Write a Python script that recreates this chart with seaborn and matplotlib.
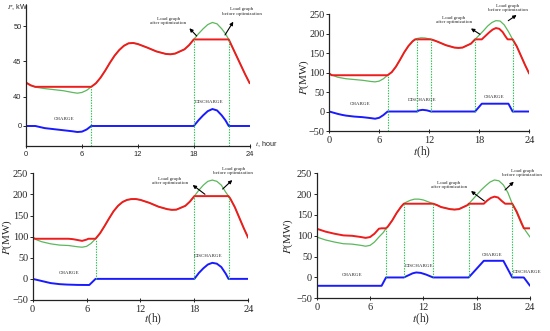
import numpy as np
import matplotlib
matplotlib.use("Agg")
import matplotlib.pyplot as plt
import seaborn as sns

sns.set_style("ticks")
plt.rcParams["font.family"] = ["Liberation Serif", "DejaVu Serif"]
plt.rcParams["mathtext.fontset"] = "stix"

# ---------------- data ----------------
# Panel 1 (kW)
t1_before = [0, 0.5, 1, 2, 3, 4, 5, 5.5, 6, 6.5, 7, 7.5, 8, 8.5, 9, 9.5, 10, 10.5, 11, 11.5, 12,
             13, 14, 15, 15.5, 16, 17, 17.5, 18, 18.5, 19, 19.5, 20, 20.5, 21, 21.4, 21.75,
             22, 22.5, 23, 23.5, 24]
before1 = [42.0, 41.65, 41.35, 41.15, 41.0, 40.85, 40.6, 40.5, 40.6, 40.9, 41.4, 41.9, 42.7, 43.7,
           44.8, 45.8, 46.6, 47.2, 47.55, 47.6, 47.45, 46.95, 46.4, 46.05, 46.0, 46.1, 46.7, 47.3,
           48.1, 48.9, 49.6, 50.2, 50.5, 50.3, 49.6, 48.9, 48.1, 47.4, 46.0, 44.6, 43.2, 41.9]
t1_after = [0, 0.5, 1, 7, 7.5, 8, 8.5, 9, 9.5, 10, 10.5, 11, 11.5, 12, 13, 14, 15, 15.5, 16, 17,
            17.5, 18, 21.75, 22, 22.5, 23, 23.5, 24]
after1 = [42.0, 41.6, 41.4, 41.4, 41.9, 42.7, 43.7, 44.8, 45.8, 46.6, 47.2, 47.55, 47.6, 47.45,
          46.95, 46.4, 46.05, 46.0, 46.1, 46.7, 47.3, 48.1, 48.1, 47.4, 46.0, 44.6, 43.2, 41.9]
t1_batt = [0, 1, 1.5, 2, 3, 4, 5, 5.5, 6, 6.5, 7, 18, 18.5, 19, 19.5, 20, 20.5, 21, 21.4, 21.75, 24]
batt1 = [0, 0, -0.15, -0.3, -0.45, -0.6, -0.75, -0.85, -0.8, -0.5, 0, 0, 0.8, 1.5, 2.1, 2.4, 2.2,
         1.5, 0.8, 0, 0]
vlines1 = [7, 18, 21.75]

# Panel 2 (MW)
t2_before = [0, 0.5, 1, 2, 3, 4, 5, 5.5, 6, 6.5, 7, 7.5, 8, 8.5, 9, 9.5, 10, 10.5, 11, 11.5, 12,
             12.5, 13, 14, 15, 15.5, 16, 17, 17.5, 18, 18.5, 19, 19.5, 20, 20.5, 21, 21.5, 22,
             22.5, 23, 23.5, 24]
before2 = [97, 92, 88, 84, 82, 80, 77, 76, 78, 84, 93, 101, 115, 133, 152, 168, 180, 187, 189, 188.5,
           186, 183, 179, 170, 164, 163, 164, 174, 185, 196, 207, 219, 228, 233, 232, 222, 205, 185,
           167, 143, 119, 97]
t2_after = [0, 0.3, 7, 7.5, 8, 8.5, 9, 9.5, 10, 10.3, 12.2, 12.5, 13, 14, 15, 15.5, 16, 17, 17.5,
            18.3, 18.7, 19.2, 19.6, 20, 20.4, 20.8, 21.1, 21.4, 22, 22.5, 23, 23.5, 24]
after2 = [97, 93, 93, 101, 115, 133, 152, 168, 180, 185, 185, 183, 179, 170, 164, 163, 164, 174, 185,
          185, 193, 203, 210, 214, 212, 204, 194, 185, 185, 167, 143, 119, 97]
t2_batt = [0, 1, 1.5, 2, 3, 4, 5, 5.5, 6, 6.5, 7, 10.5, 10.8, 11.2, 11.7, 12.2, 17.5, 18.3, 21.5, 22, 24]
batt2 = [0, -6, -8.5, -10.5, -13, -14.5, -17, -18.5, -16, -9, 0, 0, 3, 4.3, 3, 0, 0, 20, 20, 0, 0]
vlines2 = [7, 10.5, 12.2, 17.5, 22]

# Panel 3 (MW)
t3_before = [0, 0.5, 1, 2, 3, 4, 5, 5.5, 6, 6.5, 7, 7.5, 8, 8.5, 9, 9.5, 10, 10.5, 11, 11.5, 12,
             13, 14, 15, 15.5, 16, 17, 17.5, 18, 18.5, 19, 19.5, 20, 20.5, 21, 21.5, 21.8,
             22, 22.5, 23, 23.5, 24]
before3 = [97, 92, 88, 83, 80, 79, 76, 75, 77, 84, 95, 108, 125, 143, 160, 173, 182, 187, 189, 189,
           187, 180, 171, 165, 163.5, 164, 173, 183, 196, 210, 222, 231, 234, 231, 222, 205, 196,
           190, 170, 145, 120, 97]
t3_after = [0, 0.3, 4, 4.5, 5, 5.5, 6, 6.2, 7, 7.5, 8, 8.5, 9, 9.5, 10, 10.5, 11, 11.5, 12,
            13, 14, 15, 15.5, 16, 17, 17.5, 18, 21.8, 22, 22.5, 23, 23.5, 24]
after3 = [97, 95, 95, 94, 92, 90, 93, 95, 95, 108, 125, 143, 160, 173, 182, 187, 189, 189, 187,
          180, 171, 165, 163.5, 164, 173, 183, 196, 196, 190, 170, 145, 120, 97]
t3_batt = [0, 1, 1.6, 2, 3, 3.8, 5, 6.3, 7, 18, 18.5, 19, 19.5, 20, 20.5, 21, 21.5, 21.8, 24]
batt3 = [0, -5, -8, -10, -12.5, -13.5, -14.3, -14.5, 0, 0, 14, 25, 34, 38, 36, 28, 12, 0, 0]
vlines3 = [7, 18, 21.8]

# Panel 4 (MW)
t4_before = [0, 1, 2, 3, 4, 5, 5.5, 6, 6.5, 7, 7.5, 7.8, 8, 8.5, 9, 9.5, 9.8, 10, 10.5, 11, 11.5,
             12, 12.5, 13, 13.1, 13.5, 14, 15, 15.5, 16, 17, 17.1, 17.5, 18, 18.5, 19, 19.5, 20,
             20.5, 21, 21.5, 22, 22.5, 23, 23.5, 24]
before4 = [97, 90, 85, 81, 80, 77, 75, 77, 85, 97, 108, 118, 122, 137, 155, 170, 177, 180, 185, 188,
           188, 186, 182, 178, 177, 174, 169, 164, 163, 164, 174, 177, 186, 198, 210, 220, 229, 234,
           232, 222, 204, 177, 155, 130, 112, 97]
t4_after = [0, 1, 2, 3, 4, 5, 5.5, 6, 6.5, 7, 7.3, 7.8, 8, 8.5, 9, 9.5, 9.8, 13.1, 13.5, 14, 15,
            15.5, 16, 17, 17.1, 18.8, 19.2, 19.6, 20, 20.4, 20.8, 21.2, 22, 22.5, 23, 23.3, 24]
after4 = [117, 110, 105, 101, 100, 97, 95, 97, 105, 117, 118, 118, 122, 137, 155, 170, 177, 177, 174,
          169, 164, 163, 164, 174, 177, 177, 185, 191, 194, 192, 184, 177, 177, 158, 133, 118, 118]
t4_batt = [0, 7.3, 7.8, 9.8, 10.3, 10.8, 11.2, 11.7, 12.3, 13.1, 17.1, 18.8, 21, 22, 23.3, 24]
batt4 = [-20, -20, 0, 0, 5, 10, 12, 11, 7, 0, 0, 40, 40, 0, 0, -20]
vlines4 = [7.8, 9.8, 13.1, 17.1, 22]

x_ticks = [0, 6, 12, 18, 24]
y_ticks_mw = [-50, 0, 50, 100, 150, 200, 250]

RED = "#ee1c1c"
GREEN = "#5cb85c"
BLUE = "#1a1aff"
DASH = "#1fc24a"
SMALL = 3.6

fig = plt.figure(figsize=(5.5, 3.31), dpi=100)


def draw(ax, t, v, color, lw):
    sns.lineplot(x=t, y=v, ax=ax, color=color, lw=lw, estimator=None, sort=False, legend=False)


def style_axes(ax):
    for s in ["top", "right"]:
        ax.spines[s].set_visible(False)
    for s in ["left", "bottom"]:
        ax.spines[s].set_linewidth(0.9)
        ax.spines[s].set_color("#222222")
    ax.set_xlim(0, 24)
    ax.set_xticks(x_ticks)
    ax.tick_params(axis="x", direction="inout", length=3, width=0.7, pad=2)
    ax.tick_params(axis="y", direction="out", length=2, width=0.7, pad=1.2)


def vlines(ax, ts, t_after, after, bottoms):
    for tv, b in zip(ts, bottoms):
        top = np.interp(tv, t_after, after)
        ax.plot([tv, tv], [b, top], color=DASH, lw=0.8, ls=(0, (1.2, 1.2)))


def labels(ax, after_xy, before_xy, arrow1, arrow2):
    ax.text(*after_xy, "Load graph\nafter optimization", fontsize=SMALL, ha="center", va="center",
            linespacing=1.1)
    ax.text(*before_xy, "Load graph\nbefore optimization", fontsize=SMALL, ha="center", va="center",
            linespacing=1.1)
    for (tail, head) in (arrow1, arrow2):
        ax.annotate("", xy=head, xytext=tail,
                    arrowprops=dict(arrowstyle="-|>", color="black", lw=0.8, mutation_scale=5,
                                    shrinkA=0, shrinkB=0))


# ---------- Panel 1 ----------
ax1 = fig.add_axes([0.0473, 0.5589, 0.4067, 0.426])
base1 = 35.86
draw(ax1, t1_before, before1, GREEN, 0.9)
draw(ax1, t1_after, after1, RED, 1.4)
draw(ax1, t1_batt, [base1 + b for b in batt1], BLUE, 1.4)
style_axes(ax1)
ax1.set_ylim(33.03, 52.97)
vlines(ax1, vlines1, t1_after, after1, [33.03] * 3)
ax1.set_yticks([base1, 40, 45, 50])
ax1.set_yticklabels(["0", "40", "45", "50"])
for lab in ax1.get_xticklabels() + ax1.get_yticklabels():
    lab.set_family(["Liberation Sans", "DejaVu Sans"])
    lab.set_fontsize(5.4)
ax1.set_xlabel("")
ax1.set_ylabel("")
ax1.text(-0.085, 0.985, r"$P$, kW", transform=ax1.transAxes, fontsize=5.2, ha="left", va="center",
         family=["Liberation Sans", "DejaVu Sans"])
ax1.text(1.024, 0.015, r"$t$, hour", transform=ax1.transAxes, fontsize=5.2, ha="left", va="center",
         family=["Liberation Sans", "DejaVu Sans"])
ax1.text(4.08, 36.85, "CHARGE", fontsize=SMALL, ha="center", va="center")
ax1.text(19.63, 39.25, "DISCHARGE", fontsize=SMALL, ha="center", va="center")
labels(ax1, (15.28, 50.66), (23.17, 52.05),
       ((18.31, 48.59), (17.53, 49.68)), ((21.35, 48.73), (22.24, 50.61)))

# ---------- Panels 2-4 ----------
def mw_panel(rect, tb, bv, ta, av, tc, cv, vl, bottoms, xl, yl):
    ax = fig.add_axes(rect)
    draw(ax, tb, bv, GREEN, 0.9)
    draw(ax, ta, av, RED, 1.4)
    draw(ax, tc, cv, BLUE, 1.4)
    style_axes(ax)
    ax.set_ylim(-50, 250)
    ax.set_yticks(y_ticks_mw)
    ax.set_yticklabels(["\u221250", "0", "50", "100", "150", "200", "250"])
    ax.tick_params(labelsize=7.4)
    vlines(ax, vl, ta, av, bottoms)
    ax.set_xlabel(r"$t$(h)", fontsize=8.3, va="center")
    ax.set_ylabel(r"$P$(MW)", fontsize=8.0, va="center")
    ax.xaxis.set_label_coords(*xl)
    ax.yaxis.set_label_coords(*yl)
    return ax


ax2 = mw_panel([0.5987, 0.6042, 0.3636, 0.3535], t2_before, before2, t2_after, after2,
               t2_batt, batt2, vlines2, [-50, 0, 0, 0, 0], (0.462, -0.178), (-0.125, 0.46))
ax2.text(3.68, 19.2, "CHARGE", fontsize=SMALL, ha="center", va="center")
ax2.text(11.12, 29.5, "DISCHARGE", fontsize=SMALL, ha="center", va="center")
ax2.text(19.76, 37.2, "CHARGE", fontsize=SMALL, ha="center", va="center")
labels(ax2, (14.96, 235.4), (21.4, 266.2),
       ((18.08, 198), (17.0, 213)), ((21.48, 232.8), (22.48, 247.4)))

ax3 = mw_panel([0.0594, 0.0937, 0.392, 0.3827], t3_before, before3, t3_after, after3,
               t3_batt, batt3, vlines3, [0, 0, 0], (0.56, -0.155), (-0.118, 0.5))
ax3.text(4.04, 13.9, "CHARGE", fontsize=SMALL, ha="center", va="center")
ax3.text(19.5, 54.2, "DISCHARGE", fontsize=SMALL, ha="center", va="center")
labels(ax3, (15.28, 232.2), (22.33, 255.4),
       ((19.18, 200.3), (17.81, 222.3)), ((21.15, 212.8), (22.22, 234)))

ax4 = mw_panel([0.5758, 0.0988, 0.3879, 0.3776], t4_before, before4, t4_after, after4,
               t4_batt, batt4, vlines4, [0, 0, 0, 0, 0], (0.49, -0.166), (-0.135, 0.5))
ax4.text(3.97, 5.9, "CHARGE", fontsize=SMALL, ha="center", va="center")
ax4.text(11.51, 27.5, "DISCHARGE", fontsize=SMALL, ha="center", va="center")
ax4.text(19.73, 53.9, "CHARGE", fontsize=SMALL, ha="center", va="center")
ax4.text(23.66, 13.1, "DISCHARGE", fontsize=SMALL, ha="center", va="center")
labels(ax4, (14.89, 222), (23.13, 251.2),
       ((18.86, 183.5), (17.36, 207.5)), ((21.19, 210), (22.17, 229.8)))

fig.savefig("out.png", dpi=100)
